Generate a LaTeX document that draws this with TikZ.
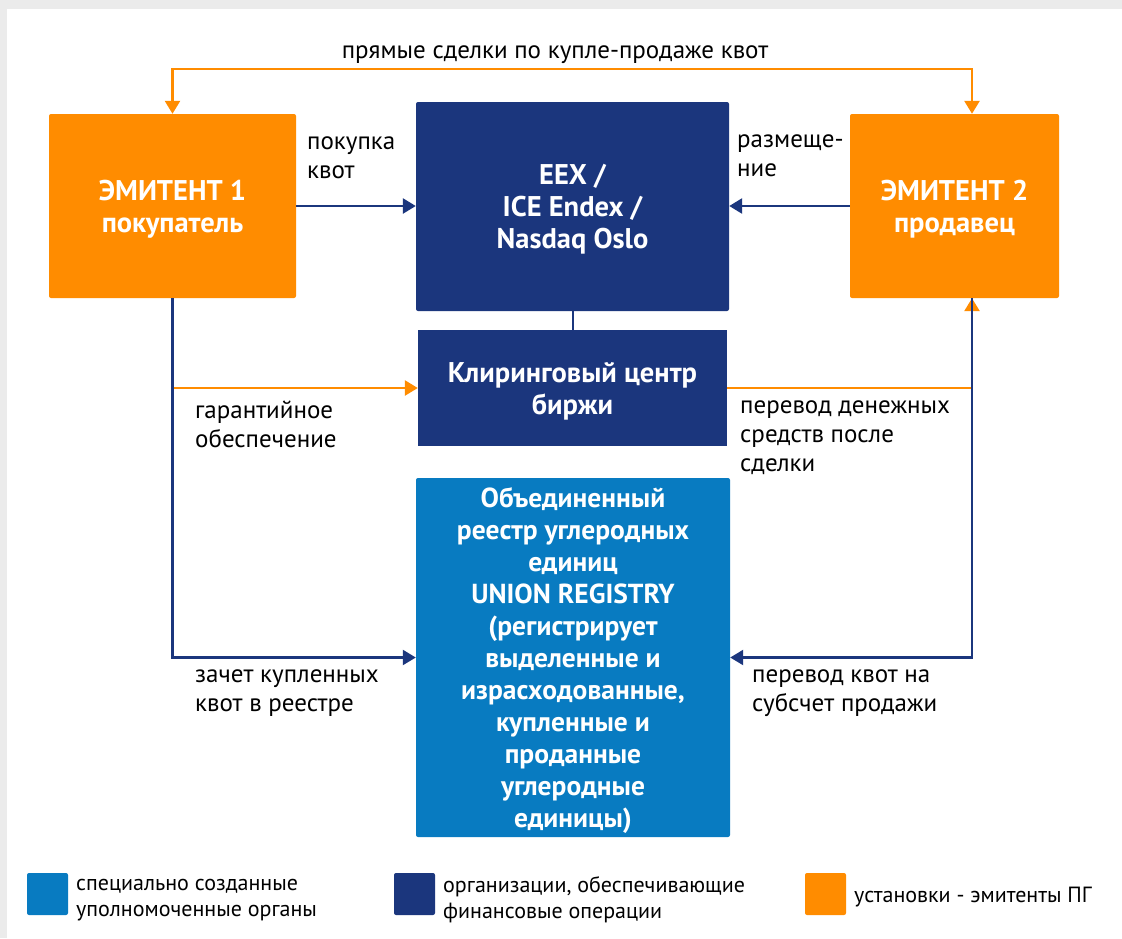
\documentclass[tikz,border=0pt]{standalone}
\usepackage{fontspec}
\setmainfont{PT Sans}
\usetikzlibrary{arrows.meta,calc}
\definecolor{orng}{RGB}{255,140,0}
\definecolor{navy}{RGB}{27,54,125}
\definecolor{lblue}{RGB}{8,123,193}
\definecolor{bggray}{RGB}{235,235,235}
\tikzset{
  box/.style={rectangle, rounded corners=2pt, inner sep=0pt, align=center, text=white,
    text depth=0pt, font=\fontsize{28.5}{32}\selectfont\bfseries},
  lbl/.style={inner sep=0pt, anchor=west, align=left, text=black,
    font=\fontsize{25}{29}\selectfont},
  leg/.style={inner sep=0pt, anchor=west, align=left, text=black,
    font=\fontsize{22}{26}\selectfont},
  legsq/.style={rectangle, rounded corners=2pt, minimum width=41pt, minimum height=42pt, inner sep=0pt},
  nline/.style={draw=navy, line width=2.6pt},
  oline/.style={draw=orng, line width=2.6pt},
  ntip/.style={-{Triangle[length=13pt,width=15pt,fill=navy]}},
  otip/.style={-{Triangle[length=13pt,width=15pt,fill=orng]}},
}
\begin{document}
\begin{tikzpicture}[x=1pt,y=-1pt]
\fill[bggray] (0,0) rectangle (1122,938);
\fill[white] (7,9) rectangle (1122,938);
\useasboundingbox (0,0) rectangle (1122,938);

% boxes
\node[box, fill=orng, minimum width=247pt, minimum height=184pt] (e1) at (172.5,206) {ЭМИТЕНТ 1\\покупатель};
\node[box, fill=navy, minimum width=313pt, minimum height=209pt] (eex) at (572.5,206.5) {EEX /\\ICE Endex /\\Nasdaq Oslo};
\node[box, fill=orng, minimum width=209pt, minimum height=184pt] (e2) at (954.5,206) {ЭМИТЕНТ 2\\продавец};
\node[box, fill=navy, rounded corners=0pt, minimum width=309pt, minimum height=116pt] (clr) at (572.5,388) {Клиринговый центр\\биржи};
\node[box, fill=lblue, minimum width=314pt, minimum height=359pt, font=\fontsize{27.5}{32}\selectfont\bfseries] (ur) at (573,657.5)
  {Объединенный\\реестр углеродных\\единиц\\UNION REGISTRY\\(регистрирует\\выделенные и\\израсходованные,\\купленные и\\проданные\\углеродные\\единицы)};

% helper coordinates
\coordinate (topR) at (972,69);
\coordinate (gL) at (173,388);

% labels
\node[lbl, anchor=center] (ltop) at (555,55) {прямые сделки по купле-продаже квот};
\node[lbl] (lbuy) at (307,158) {покупка\\квот};
\node[lbl] (lplace) at (737,156) {размеще-\\ние};
\node[lbl] (lguar) at (195,424) {гарантийное\\обеспечение};
\node[lbl] (lmoney) at (740,437.5) {перевод денежных\\средств после\\сделки};
\node[lbl] (lcredit) at (195,693.5) {зачет купленных\\квот в реестре};
\node[lbl] (ltrans) at (752,693.5) {перевод квот на\\субсчет продажи};

% connectors
\draw[oline, {Triangle[length=13pt,width=15pt,fill=orng]}-{Triangle[length=13pt,width=15pt,fill=orng]}] (e1.north) |- (topR) -- (e2.north -| topR);
\draw[nline, ntip] (e1.east) -- (e1.east -| eex.west);
\draw[nline, ntip] (e2.west) -- (e2.west -| eex.east);
\draw[nline, line width=2pt] (eex.south) -- (clr.north);
\draw[oline, otip] (gL) -- (clr.west);
\draw[oline, otip] (clr.east) -| (e2.south -| topR);
\draw[nline, line width=2.2pt, ntip] (e1.south) |- (ur.west);
\draw[nline, line width=2.2pt, ntip] (e2.south -| topR) |- (ur.east);

% legend
\node[legsq, fill=lblue] (sq1) at (47.5,894) {};
\node[leg] (t1) at (76,900) {специально созданные\\уполномоченные органы};
\node[legsq, fill=navy] (sq2) at (414.5,894) {};
\node[leg] (t2) at (443,900) {организации, обеспечивающие\\финансовые операции};
\node[legsq, fill=orng] (sq3) at (825.5,894) {};
\node[leg] (t3) at (854,897) {установки - эмитенты ПГ};
\end{tikzpicture}
\end{document}
